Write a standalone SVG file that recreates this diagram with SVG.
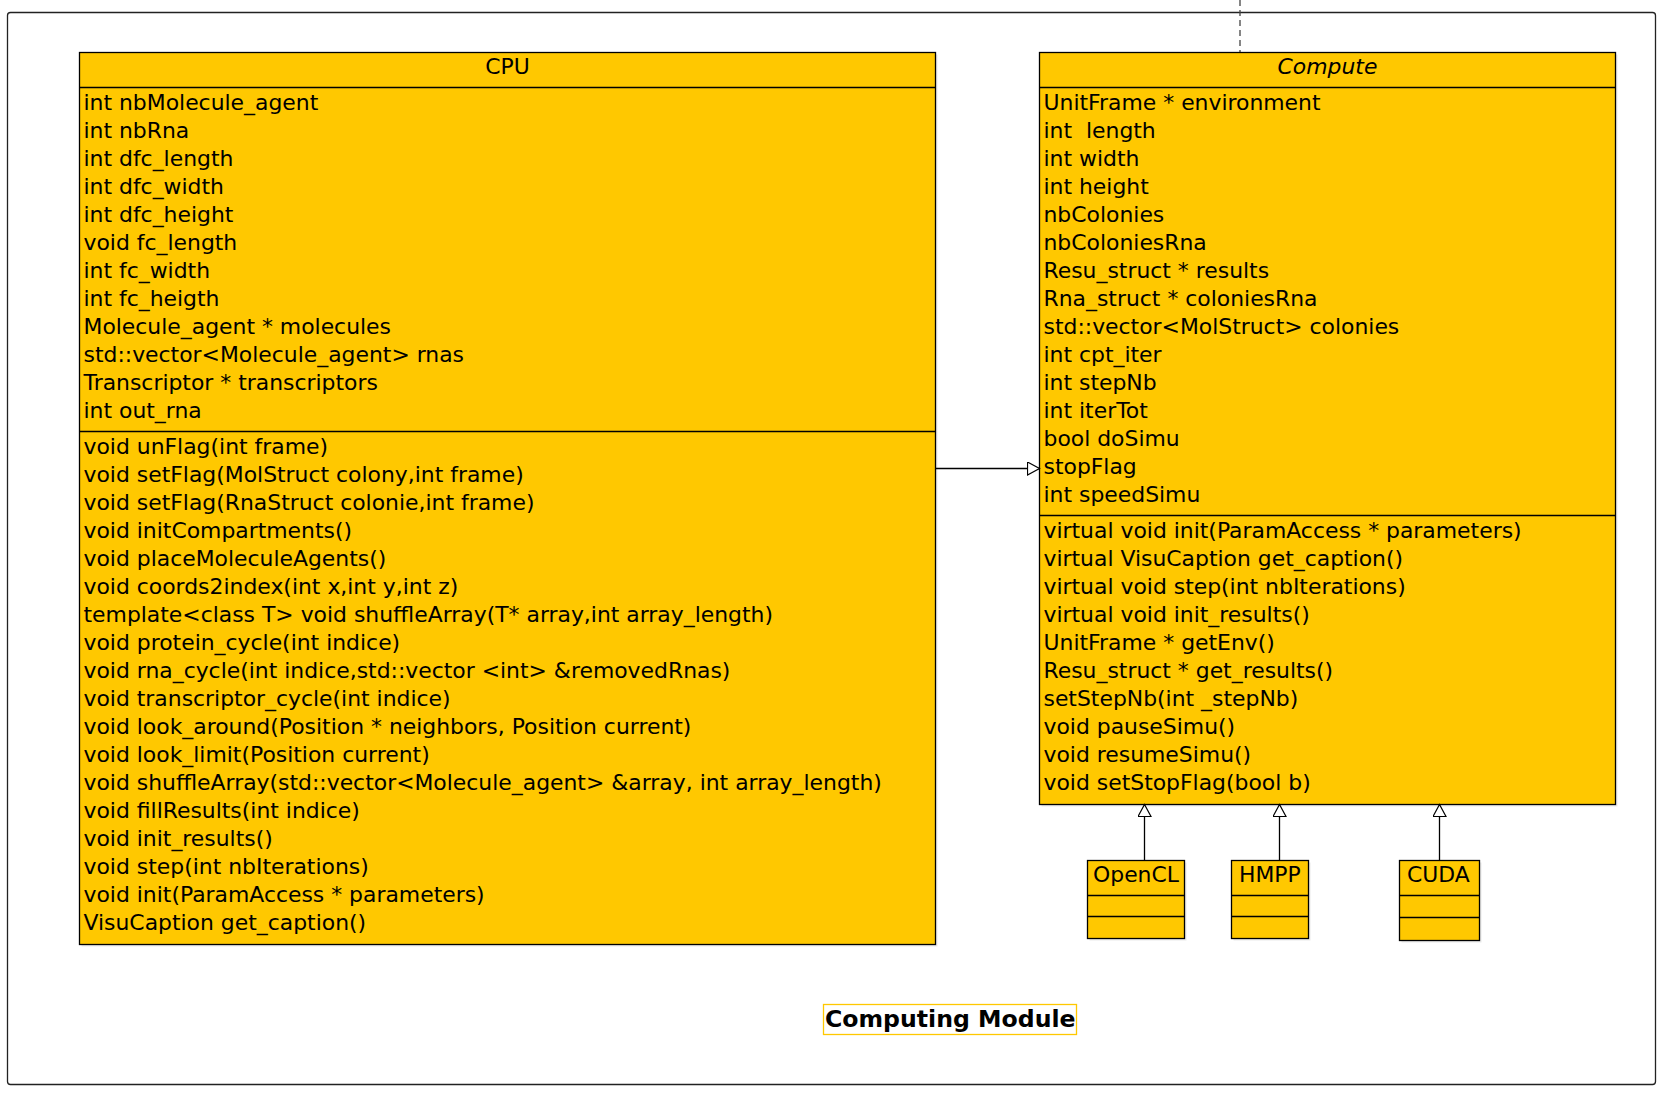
<svg xmlns="http://www.w3.org/2000/svg" width="1664" height="1112" viewBox="0 0 1664 1112">
<defs>
<style>
.cls{fill:#FFC800;stroke:#000;stroke-width:1.3}
.sh{fill:#e9e9e9;stroke:none}
.ln{stroke:#000;stroke-width:1.3;fill:none}
text{font-family:"DejaVu Sans","Liberation Sans",sans-serif;font-size:21.9px;fill:#000;white-space:pre}
.title{text-anchor:middle}
.it{font-style:italic}
.conn{stroke:#000;stroke-width:1.3;fill:none}
.lbl{font-weight:bold;font-size:23.6px}
</style>
<marker id="gen" markerUnits="userSpaceOnUse" markerWidth="14" markerHeight="16" refX="12.5" refY="7" orient="auto" viewBox="0 0 14 16">
<path d="M0.5,0.5 L12.5,7 L0.5,13.5 Z" fill="#fff" stroke="#000" stroke-width="1.2"/>
</marker>
</defs>
<rect id="frame" x="7.5" y="12.5" width="1648" height="1072" rx="3" ry="3" fill="#fff" stroke="#222" stroke-width="1.3"/>
<line x1="1240" y1="0" x2="1240" y2="52" stroke="#444" stroke-width="1.3" stroke-dasharray="6,4"/>

<g id="CPU">
<rect class="sh" x="81.5" y="54.5" width="856" height="892"/>
<rect class="cls" x="79.5" y="52.5" width="856" height="892"/>
<line class="ln" x1="79.5" y1="87.5" x2="935.5" y2="87.5"/>
<line class="ln" x1="79.5" y1="431.5" x2="935.5" y2="431.5"/>
<text class="title" x="507.5" y="73.5">CPU</text>
<text x="83.5" y="110">int nbMolecule_agent</text>
<text x="83.5" y="138">int nbRna</text>
<text x="83.5" y="166">int dfc_length</text>
<text x="83.5" y="194">int dfc_width</text>
<text x="83.5" y="222">int dfc_height</text>
<text x="83.5" y="250">void fc_length</text>
<text x="83.5" y="278">int fc_width</text>
<text x="83.5" y="306">int fc_heigth</text>
<text x="83.5" y="334">Molecule_agent * molecules</text>
<text x="83.5" y="362">std::vector&lt;Molecule_agent&gt; rnas</text>
<text x="83.5" y="390">Transcriptor * transcriptors</text>
<text x="83.5" y="418">int out_rna</text>
<text x="83.5" y="453.5">void unFlag(int frame)</text>
<text x="83.5" y="481.5">void setFlag(MolStruct colony,int frame)</text>
<text x="83.5" y="509.5">void setFlag(RnaStruct colonie,int frame)</text>
<text x="83.5" y="537.5">void initCompartments()</text>
<text x="83.5" y="565.5">void placeMoleculeAgents()</text>
<text x="83.5" y="593.5">void coords2index(int x,int y,int z)</text>
<text x="83.5" y="621.5">template&lt;class T&gt; void shuffleArray(T* array,int array_length)</text>
<text x="83.5" y="649.5">void protein_cycle(int indice)</text>
<text x="83.5" y="677.5">void rna_cycle(int indice,std::vector &lt;int&gt; &amp;removedRnas)</text>
<text x="83.5" y="705.5">void transcriptor_cycle(int indice)</text>
<text x="83.5" y="733.5">void look_around(Position * neighbors, Position current)</text>
<text x="83.5" y="761.5">void look_limit(Position current)</text>
<text x="83.5" y="789.5">void shuffleArray(std::vector&lt;Molecule_agent&gt; &amp;array, int array_length)</text>
<text x="83.5" y="817.5">void fillResults(int indice)</text>
<text x="83.5" y="845.5">void init_results()</text>
<text x="83.5" y="873.5">void step(int nbIterations)</text>
<text x="83.5" y="901.5">void init(ParamAccess * parameters)</text>
<text x="83.5" y="929.5">VisuCaption get_caption()</text>
</g>

<g id="Compute">
<rect class="sh" x="1041.5" y="54.5" width="576" height="752"/>
<rect class="cls" x="1039.5" y="52.5" width="576" height="752"/>
<line class="ln" x1="1039.5" y1="87.5" x2="1615.5" y2="87.5"/>
<line class="ln" x1="1039.5" y1="515.5" x2="1615.5" y2="515.5"/>
<text class="title it" x="1327.5" y="73.5">Compute</text>
<text x="1043.5" y="110">UnitFrame * environment</text>
<text x="1043.5" y="138">int  length</text>
<text x="1043.5" y="166">int width</text>
<text x="1043.5" y="194">int height</text>
<text x="1043.5" y="222">nbColonies</text>
<text x="1043.5" y="250">nbColoniesRna</text>
<text x="1043.5" y="278">Resu_struct * results</text>
<text x="1043.5" y="306">Rna_struct * coloniesRna</text>
<text x="1043.5" y="334">std::vector&lt;MolStruct&gt; colonies</text>
<text x="1043.5" y="362">int cpt_iter</text>
<text x="1043.5" y="390">int stepNb</text>
<text x="1043.5" y="418">int iterTot</text>
<text x="1043.5" y="446">bool doSimu</text>
<text x="1043.5" y="474">stopFlag</text>
<text x="1043.5" y="502">int speedSimu</text>
<text x="1043.5" y="537.5">virtual void init(ParamAccess * parameters)</text>
<text x="1043.5" y="565.5">virtual VisuCaption get_caption()</text>
<text x="1043.5" y="593.5">virtual void step(int nbIterations)</text>
<text x="1043.5" y="621.5">virtual void init_results()</text>
<text x="1043.5" y="649.5">UnitFrame * getEnv()</text>
<text x="1043.5" y="677.5">Resu_struct * get_results()</text>
<text x="1043.5" y="705.5">setStepNb(int _stepNb)</text>
<text x="1043.5" y="733.5">void pauseSimu()</text>
<text x="1043.5" y="761.5">void resumeSimu()</text>
<text x="1043.5" y="789.5">void setStopFlag(bool b)</text>
</g>

<g id="OpenCL">
<rect class="sh" x="1089.5" y="862.5" width="97" height="78"/>
<rect class="cls" x="1087.5" y="860.5" width="97" height="78"/>
<line class="ln" x1="1087.5" y1="895.5" x2="1184.5" y2="895.5"/>
<line class="ln" x1="1087.5" y1="916.5" x2="1184.5" y2="916.5"/>
<text x="1093" y="882">OpenCL</text>
</g>

<g id="HMPP">
<rect class="sh" x="1233.5" y="862.5" width="77" height="78"/>
<rect class="cls" x="1231.5" y="860.5" width="77" height="78"/>
<line class="ln" x1="1231.5" y1="895.5" x2="1308.5" y2="895.5"/>
<line class="ln" x1="1231.5" y1="916.5" x2="1308.5" y2="916.5"/>
<text x="1239" y="882">HMPP</text>
</g>

<g id="CUDA">
<rect class="sh" x="1401.5" y="862.5" width="80" height="80"/>
<rect class="cls" x="1399.5" y="860.5" width="80" height="80"/>
<line class="ln" x1="1399.5" y1="895.5" x2="1479.5" y2="895.5"/>
<line class="ln" x1="1399.5" y1="917.5" x2="1479.5" y2="917.5"/>
<text x="1407" y="882">CUDA</text>
</g>

<g id="connectors">
<line class="conn" x1="935.5" y1="468.5" x2="1039.5" y2="468.5" marker-end="url(#gen)"/>
<line class="conn" x1="1144.5" y1="860.5" x2="1144.5" y2="804.5" marker-end="url(#gen)"/>
<line class="conn" x1="1279.5" y1="860.5" x2="1279.5" y2="804.5" marker-end="url(#gen)"/>
<line class="conn" x1="1439.5" y1="860.5" x2="1439.5" y2="804.5" marker-end="url(#gen)"/>
</g>

<g id="label">
<rect x="823.5" y="1004.5" width="253" height="30" fill="#fff" stroke="#FFC800" stroke-width="1.3"/>
<text class="lbl" x="825" y="1027">Computing Module</text>
</g>
</svg>
